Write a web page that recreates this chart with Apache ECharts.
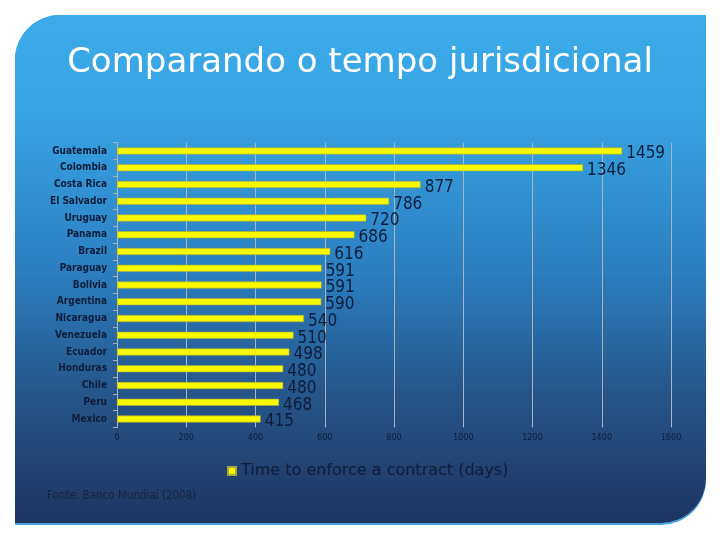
<!DOCTYPE html>
<html>
<head>
<meta charset="utf-8">
<script src="https://cdn.jsdelivr.net/npm/echarts@6/dist/echarts.min.js"></script>
<style>html,body{margin:0;padding:0;background:#fff;}#c{width:720px;height:540px;}</style>
</head>
<body>
<div id="c"></div>
<script>
const countries = ["Guatemala","Colombia","Costa Rica","El Salvador","Uruguay","Panama","Brazil","Paraguay","Bolivia","Argentina","Nicaragua","Venezuela","Ecuador","Honduras","Chile","Peru","Mexico"];
const days = [1459,1346,877,786,720,686,616,591,591,590,540,510,498,480,480,468,415];
const xTicks = [0,200,400,600,800,1000,1200,1400,1600];
const seriesName = "Time to enforce a contract (days)";
const titleText = "Comparando o tempo jurisdicional";
const sourceText = "Fonte: Banco Mundial (2008)";

const chart = echarts.init(document.getElementById('c'), null, {renderer:'canvas'});
const dark = '#0f1d3a';
chart.setOption({
  animation:false,
  backgroundColor:'#ffffff',
  graphic:[
    {type:'rect', z:-10, silent:true,
     shape:{x:15,y:15,width:691,height:510,r:[45,0,45,0]},
     style:{fill:'#4aa6dc'}},
    {type:'rect', z:-9, silent:true,
     shape:{x:15,y:15,width:691,height:508,r:[45,0,45,0]},
     style:{fill:new echarts.graphic.LinearGradient(0,0,0,1,[
       {offset:0,color:'#3cabea'},
       {offset:0.2,color:'#37a3e2'},
       {offset:0.5,color:'#2c7fc0'},
       {offset:0.75,color:'#255589'},
       {offset:1,color:'#1e3562'}])}},
    {type:'text', left:'center', top:46, z:5,
     style:{text:titleText, fill:'#ffffff', font:'34px "DejaVu Sans", sans-serif'}},
    {type:'text', left:47, top:490, z:5,
     style:{text:sourceText, fill:'#16233f', font:'11.5px "DejaVu Sans Condensed", "DejaVu Sans", sans-serif'}}
  ],
  grid:{left:117,right:49,top:142.6,bottom:112.6,containLabel:false},
  legend:{
    data:[seriesName], left:222, top:458, itemWidth:8, itemHeight:8,
    icon:'rect', itemGap:5,
    textStyle:{color:dark, fontSize:16, fontFamily:'"DejaVu Sans", sans-serif'}
  },
  xAxis:{
    type:'value', min:0, max:1600, interval:200,
    axisLine:{show:false}, axisTick:{show:false},
    splitLine:{show:true, lineStyle:{color:'#a9b4bf', width:1}},
    axisLabel:{color:dark, fontSize:9, margin:6, fontFamily:'"DejaVu Sans Condensed", sans-serif',
      formatter:function(v){return xTicks.indexOf(v)>=0?String(v):'';}}
  },
  yAxis:{
    type:'category', data:countries, inverse:true,
    axisLine:{show:true, lineStyle:{color:'#a9b4bf'}},
    axisTick:{show:true, length:4, lineStyle:{color:'#a9b4bf'}},
    axisLabel:{color:dark, fontSize:10, fontWeight:'bold', margin:10, fontFamily:'"DejaVu Sans Condensed", "DejaVu Sans", sans-serif'}
  },
  series:[{
    name:seriesName, type:'bar', data:days, barWidth:7,
    itemStyle:{color:'#f8f800', borderColor:'#a8a83a', borderWidth:0.6},
    label:{show:true, position:'right', distance:4, offset:[0,3], color:dark, fontSize:17,
      fontFamily:'"DejaVu Sans Condensed", "DejaVu Sans", sans-serif'}
  }]
});
</script>
</body>
</html>
